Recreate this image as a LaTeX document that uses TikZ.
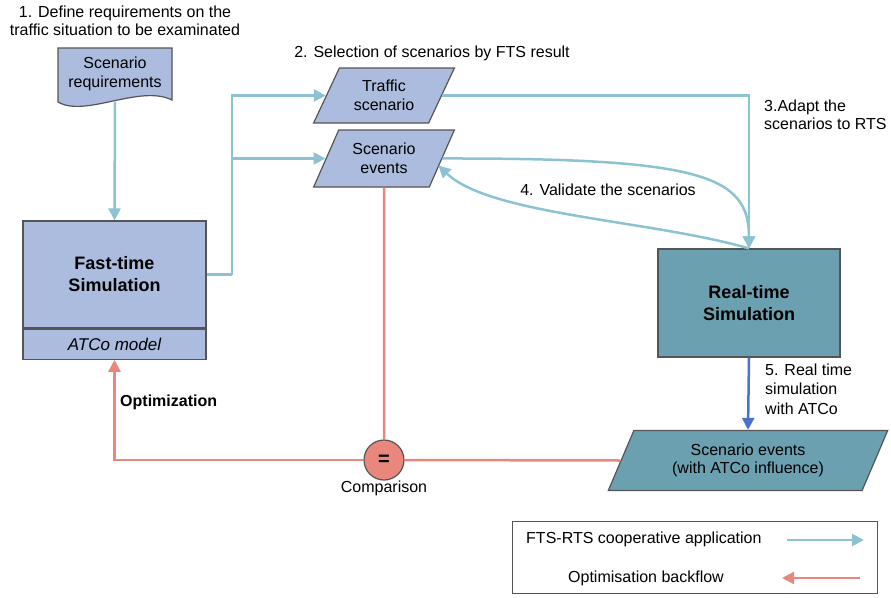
\documentclass[tikz,border=0pt]{standalone}
\usepackage{fontspec}
\setmainfont{Liberation Sans}
\usetikzlibrary{calc,arrows.meta,shapes.geometric}
\definecolor{fflow}{HTML}{8BC3D3}
\definecolor{fback}{HTML}{E9877D}
\definecolor{fbox}{HTML}{ABBCDE}
\definecolor{fteal}{HTML}{6AA0B0}
\definecolor{frun}{HTML}{4A72C8}
\definecolor{fedge}{HTML}{555555}

\tikzset{
  txt/.style={font=\fontsize{16}{18.5}\selectfont, align=center, inner sep=0pt},
  simbox/.style={draw=fedge, line width=1.2pt, inner sep=0pt, align=center,
    font=\fontsize{18}{22}\selectfont\bfseries},
  datab/.style={trapezium, trapezium left angle=60, trapezium right angle=120,
    trapezium stretches=true, draw=fedge, line width=1.2pt, fill=fbox, txt},
  flow/.style={fflow, line width=2.5pt},
  back/.style={fback, line width=2.5pt},
}

\begin{document}
\begin{tikzpicture}[x=1pt, y=-1pt, >={Triangle[width=12pt,length=12pt]}]
  \useasboundingbox (0,0) rectangle (891,597);

  % step 1: the requirements document
  \node[txt] (stepone) at (125,21) {1. Define requirements on the\\traffic situation to be examinated};
  \draw[fedge, line width=1.2pt, fill=fbox] (58,48) -- (172,48) -- (172,100)
     .. controls (140,84) and (85,118) .. (58,102) -- cycle;
  \node[txt] (req) at (115,74) {Scenario\\requirements};
  \coordinate (reqfoot) at (115,102);

  % fast-time simulation and its ATCo model
  \node[simbox, fill=fbox, minimum width=183, minimum height=107] (fts) at (114.5,274.5) {Fast-time\\Simulation};
  \node[draw=fedge, line width=1.2pt, fill=fbox, minimum width=183, minimum height=30, inner sep=0pt,
     font=\fontsize{17}{20}\selectfont\itshape, anchor=north] (atco) at (fts.south) {ATCo model};

  % step 2: selected scenarios
  \node[txt] (steptwo) at (432,53) {2. Selection of scenarios by FTS result};
  \node[datab, minimum width=142, minimum height=55] (ts) at (384,95.5) {Traffic\\scenario};
  \node[datab, minimum width=142, minimum height=57] (se) at (384,158.5) {Scenario\\events};

  % real-time simulation
  \node[simbox, fill=fteal, minimum width=182, minimum height=108] (rts) at (749,303) {Real-time\\Simulation};
  \node[datab, fill=fteal, trapezium left angle=63, trapezium right angle=117,
     minimum width=280, minimum height=60] (evx) at (748,460.5) {Scenario events\\(with ATCo influence)};

  % comparison
  \node[circle, draw=fedge, line width=1.2pt, fill=fback, minimum size=40, inner sep=0pt,
     font=\fontsize{20}{20}\selectfont\bfseries] (cmp) at (384,460) {=};
  \node[txt] (cmplabel) at (384,488) {Comparison};

  % step labels
  \node[txt, anchor=west, align=left] (stepthree) at (764,115) {3.Adapt the\\scenarios to RTS};
  \node[txt] (stepfour) at (608,190) {4. Validate the scenarios};
  \node[txt, anchor=west, align=left, font=\fontsize{16}{19.5}\selectfont] (stepfive) at (765,389) {5. Real time\\simulation\\with ATCo};
  \node[txt, anchor=west, font=\fontsize{16}{18}\selectfont\bfseries] (optlabel) at (120,402) {Optimization};

  % cooperative flow
  \coordinate (fork) at (232,274.5);
  \draw[flow,->] (reqfoot) -- (fts.north);
  \draw[flow] (fts.east) -- (fork);
  \draw[flow,->] (fork) |- (ts.west);
  \draw[flow,->] (fork |- se.west) -- (se.west);
  \draw[flow,->] (ts.east) -| (rts.north);
  \draw[flow,->] (se.east) .. controls (700,158) and (749,175) .. (rts.north);
  \draw[flow,->] (rts.north) .. controls (650,220) and (490,215) .. ($(se.east)+(-4,7)$);
  \draw[frun, line width=2.5pt, ->] (rts.south) -- (evx.north);

  % optimisation backflow
  \draw[back] (se.south) -- (cmp.north);
  \draw[back] (evx.west) -- (cmp.east);
  \draw[back,->] (cmp.west) -| (atco.south);

  % legend
  \node[draw=fedge, line width=1pt, minimum width=365, minimum height=72, inner sep=0pt] (legend) at (694.5,557) {};
  \node[txt, anchor=west] (legflow) at (526,539) {FTS-RTS cooperative application};
  \node[txt] (legback) at (646,578) {Optimisation backflow};
  \coordinate (flowa) at (787,540);
  \coordinate (flowb) at (864,540);
  \coordinate (backa) at (860,578);
  \coordinate (backb) at (782,578);
  \draw[flow,->] (flowa) -- (flowb);
  \draw[back,->] (backa) -- (backb);
\end{tikzpicture}
\end{document}
